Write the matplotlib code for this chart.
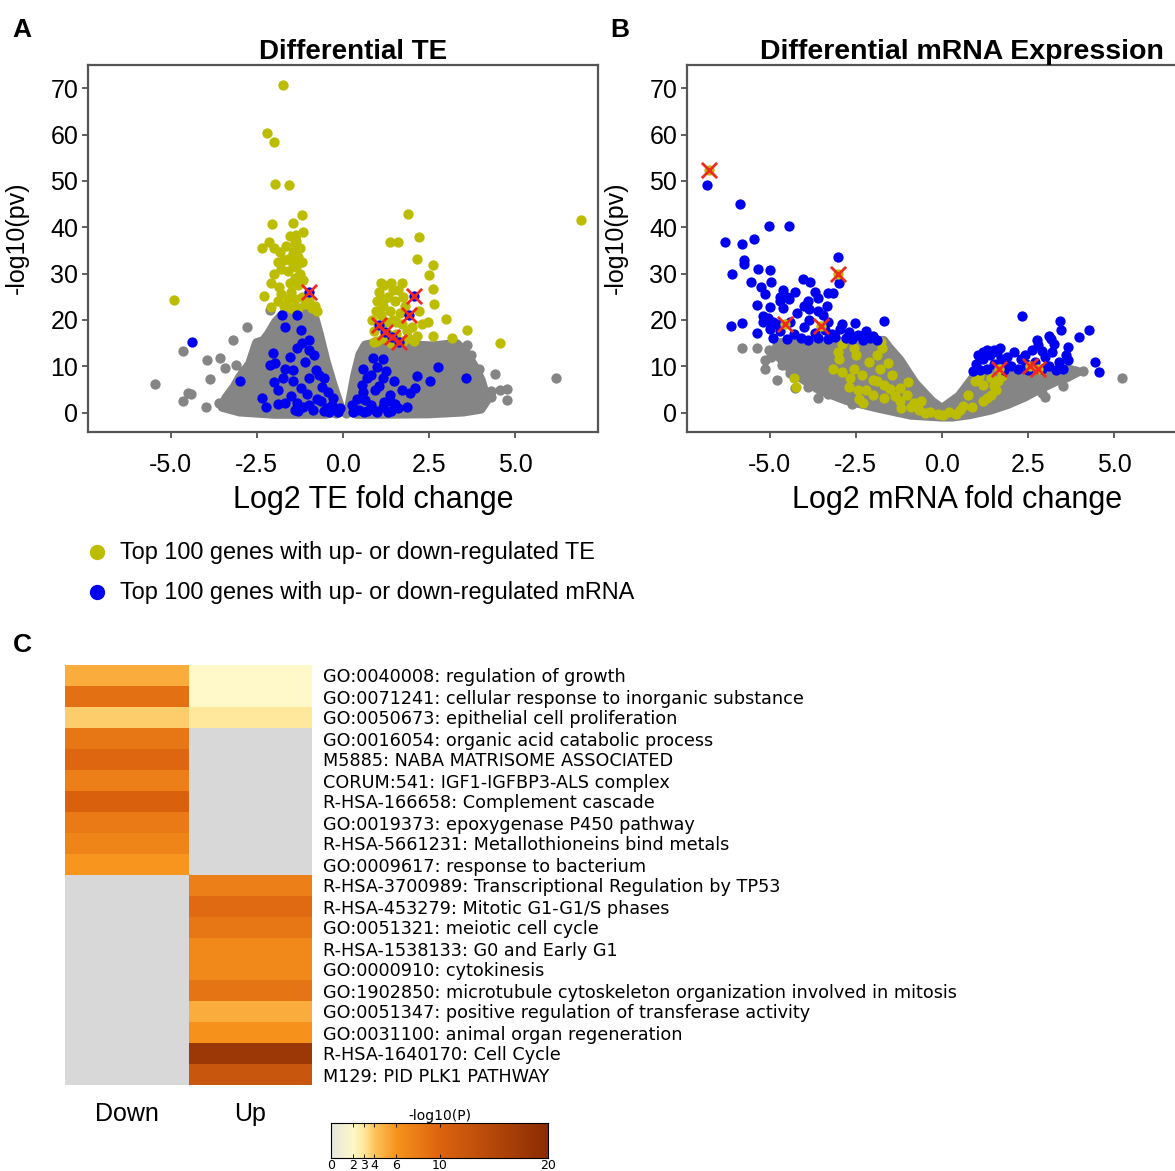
import numpy as np
import matplotlib
matplotlib.use("Agg")
import matplotlib.pyplot as plt
from matplotlib.colors import LinearSegmentedColormap
from matplotlib.lines import Line2D

# ---------------- Panel A: differential TE ----------------
te_gray_outline_x = [-3.5, -3.4, -3.15, -3.0, -2.7, -2.5, -2.3, -2.15, -1.95, -1.7, -1.3, -1.0, -0.85,
                     -0.7, -0.5, -0.3, -0.12, -0.05, -0.5, -2.0, -3.0]
te_gray_outline_y = [1.2, 3.0, 5.5, 7.5, 10.5, 15.0, 15.5, 17.0, 19.5, 21.5, 22.5, 22.0, 21.0,
                     17.0, 11.0, 6.0, 2.0, 0.3, -0.3, -0.3, 0.2]
te_gray_outline2_x = [0.15, 0.2, 0.35, 0.5, 0.65, 1.0, 1.5, 2.0, 2.6, 3.0, 3.3, 3.55, 3.8, 4.0, 4.1,
                      4.15, 4.0, 3.5, 2.5, 1.0, 0.4]
te_gray_outline2_y = [0.3, 2.0, 8.0, 12.5, 14.5, 15.0, 14.8, 14.5, 14.3, 14.6, 14.8, 13.0, 10.0, 7.0,
                      4.5, 2.5, 0.8, 0.2, -0.2, -0.3, -0.3]
te_gray_x = [-5.46, -4.65, -4.65, -4.5, -4.4, -3.95, -3.86, -3.98, -3.56, -3.41, -3.19, -2.79, -2.12,
             3.94, 3.96, 4.41, 4.3, 4.55, 4.75, 4.75, 6.18, 3.7, 4.0,
             -3.3, -2.9, -2.6, -3.6, -2.8, 3.5, 3.3, 3.9, 4.3, -0.2, 0.1, -3.1, 3.6]
te_gray_y = [6.1, 13.3, 2.4, 4.2, 4.0, 11.3, 7.2, 1.3, 11.7, 9.7, 15.6, 18.5, 22.1,
             9.5, 6.3, 8.3, 4.6, 4.8, 5.0, 2.7, 7.5, 12.5, 3.0,
             3.5, 9.0, 12.5, 2.0, 5.0, 12.0, 10.5, 2.0, 3.3, 0.0, 0.0, 10.2, 14.5]
te_yellow_x = [-1.75, -2.2, -2.0, -1.97, -1.58, -1.2, -2.06, -1.46, -1.17, -1.35, -2.15, -2.34, -1.38,
               -1.38, -1.84, -1.61, -1.38, -4.9, 6.9,
               -2.3, -2.1, -2.0, -1.85, -1.8, -1.7, -1.6, -1.55, -1.5, -1.45, -1.4, -1.35, -1.3, -1.25,
               -1.2, -1.15, -1.1, -1.0, -0.9, -0.8, -0.75, -1.3, -1.5, -1.7, -1.9, -2.1, -1.6, -1.4,
               -1.8, -1.25, -1.3, -1.45, -1.2, -1.65, -1.9, -2.0, -1.55, -1.35,
               1.88, 2.2, 1.37, 1.6, 2.16, 2.6, 2.5, 2.6, 2.65, 2.47, 3.0, 2.6, 3.15, 3.6, 4.56,
               0.85, 0.9, 0.95, 1.0, 1.05, 1.1, 1.15, 1.2, 1.25, 1.3, 1.35, 1.4, 1.45, 1.5, 1.55, 1.6,
               1.65, 1.7, 1.75, 1.8, 1.85, 1.9, 2.0, 2.05, 1.15, 1.3, 1.0, 0.9, 1.4, 1.2, 1.45, 1.7,
               1.1, 1.55, 1.75, 2.2, 2.3, 2.15]
te_yellow_y = [70.6, 60.3, 58.4, 49.4, 49.0, 42.6, 40.7, 40.8, 38.9, 38.3, 36.8, 35.4, 36.5,
               35.0, 34.7, 33.2, 34.0, 24.3, 41.5,
               25.2, 28.0, 29.8, 27.0, 31.0, 33.0, 30.5, 28.0, 26.0, 32.0, 29.0, 31.5, 27.5, 30.0,
               25.0, 28.5, 23.5, 24.0, 22.5, 23.0, 22.0, 22.5, 22.5, 23.0, 24.0, 22.8, 24.5, 24.5,
               25.5, 35.5, 33.5, 34.5, 32.5, 36.0, 32.5, 35.5, 38.0, 37.0,
               42.8, 37.8, 36.8, 36.7, 33.2, 31.8, 29.6, 26.6, 23.5, 19.5, 20.1, 16.5, 16.0, 17.8, 14.9,
               20.0, 17.5, 22.0, 24.0, 26.0, 21.0, 23.0, 27.5, 19.5, 25.0, 22.0, 28.0, 20.0, 24.0, 17.0,
               26.5, 21.5, 19.0, 15.5, 23.0, 17.5, 16.0, 18.5, 15.5, 16.0, 17.0, 15.5, 15.2, 15.0,
               24.5, 26.5, 28.0, 28.0, 19.5, 25.0, 22.0, 19.0, 16.5]
te_blue_x = [-1.78, -1.33, -1.67, -1.22, -0.99, -2.03, -1.33, -0.99, -2.12, -1.97, -1.67, -1.44, -1.10,
             -0.77, -0.71, -1.44, -0.99, -0.54, -1.89, -1.22, -0.43, -2.34, -1.67, -1.33, -0.99, -0.65,
             -0.32, -2.23, -0.88, -0.54, -0.20, -0.09, -1.55, -1.2, -0.85, -1.75, -1.05, -0.6, -0.3,
             -1.5, -1.9, -2.0, -0.75, -1.15, -1.4, -0.45, -1.3, -0.4, -0.15,
             0.59, 0.87, 1.15, 0.98, 0.70, 1.15, 1.49, 0.59, 0.92, 1.37, 1.71, 1.94, 0.25, 0.47, 0.81,
             1.15, 1.37, 1.60, 1.32, 0.4, 0.65, 0.55, 0.8, 1.05, 1.25, 1.2, 0.95, 0.7, 1.5, 1.85, 0.35,
             0.3, 0.6, 1.0, 1.4,
             -4.37, -2.98, 2.76, 3.57, 2.53, 2.16, 2.1]
te_blue_y = [21.0, 21.0, 18.5, 17.8, 15.6, 12.8, 13.9, 13.5, 10.3, 10.6, 9.5, 9.2, 11.0,
             9.2, 8.1, 6.7, 7.4, 7.4, 4.9, 5.2, 4.5, 3.1, 2.0, 2.0, 1.7, 2.4,
             1.7, 1.3, 0.6, 0.4, 0.6, 0.9, 12.0, 15.0, 12.5, 7.5, 4.0, 5.5, 3.2,
             3.5, 1.8, 6.5, 3.0, 1.2, 0.5, 1.0, 0.3, 0.2, 0.1,
             9.5, 11.7, 11.6, 9.9, 7.4, 7.4, 6.7, 4.5, 4.9, 3.8, 4.9, 4.2, 1.7, 0.6, 1.7,
             1.3, 2.4, 0.9, 0.2, 3.0, 2.8, 6.0, 8.0, 5.8, 9.0, 2.2, 0.4, 0.3, 1.8, 1.2, 0.5,
             0.1, 0.1, 0.2, 0.3,
             15.3, 6.7, 9.9, 7.4, 6.7, 7.8, 5.2]
te_marked_x = [-0.99, 2.07, 1.91, 1.04, 1.22, 1.43, 1.63]
te_marked_y = [26.0, 25.2, 21.0, 18.9, 17.4, 16.4, 15.3]

# ---------------- Panel B: differential mRNA expression ----------------
mrna_gray_outline_x = [-4.75, -3.0, -1.7, -1.55, -1.23, -0.79, -0.3, 0.0, 0.5, 0.97, 1.5, 2.5, 3.72,
                       3.94, 3.6, 3.28, 2.8, 2.4, 1.9, 1.41, 0.8, 0.3, 0.0, -0.9, -1.9, -2.78, -3.55,
                       -4.15, -4.55, -4.76, -4.8]
mrna_gray_outline_y = [15.0, 15.2, 15.5, 14.0, 11.3, 6.3, 2.4, 0.8, 3.5, 8.1, 8.4, 8.6, 9.2,
                       8.8, 7.5, 6.7, 5.0, 3.4, 1.8, 0.6, -0.4, -0.9, -0.9, -0.5, 1.1, 2.7, 4.9,
                       7.8, 10.5, 12.4, 14.0]
mrna_gray_x = [-5.8, -5.36, -5.03, -5.14, -5.14, -4.79, -4.65, -4.26, -4.4, 5.21, 3.0, 3.8, 4.1,
               -4.95, -3.9, -3.3, -2.6, -3.6, 3.5, 2.9]
mrna_gray_y = [13.9, 13.9, 13.5, 11.3, 9.5, 7.0, 10.3, 5.4, 8.5, 7.4, 3.4, 8.8, 8.9,
               12.0, 5.5, 4.0, 1.8, 3.2, 5.8, 4.2]
mrna_yellow_x = [-4.29, -4.23, -2.91, -2.56, -2.50, -3.02, -3.16, -2.91, -2.56, -2.67, -2.33, -2.11,
                 -1.89, -1.73, -1.78, -1.56, -1.45, -2.44, -2.22, -2.0, -1.67, -1.23, -0.90, -0.68,
                 -0.35, -1.89, -1.67, -1.23, -1.01, 0.2, 0.53, 0.86, 1.19, 1.41, 1.57, 1.63, 1.41,
                 1.19, 1.08, 0.97, 0.75, 1.30, -0.13, 0.03, -0.5, -1.2, 0.4, -2.3, -2.7, -3.0, -1.0,
                 -1.5, -2.0, -0.8, 0.6, 1.5, 1.75, -1.35, -0.6, -2.4, -1.8]
mrna_yellow_y = [7.5, 5.6, 14.7, 13.9, 12.4, 13.1, 9.5, 8.8, 9.5, 7.4, 8.1, 11.0,
                 12.4, 13.9, 15.3, 10.6, 8.1, 4.9, 4.9, 3.8, 3.1, 2.4, 1.3, 0.6,
                 0.2, 6.7, 6.0, 5.2, 3.8, 0.2, 0.6, 1.3, 2.4, 3.8, 4.9, 6.7, 7.4,
                 6.0, 7.8, 6.7, 3.8, 3.1, -0.4, -0.5, 0.0, 1.0, -0.3, 2.0, 5.5, 11.5, 6.5,
                 5.0, 7.0, 2.0, 1.5, 5.8, 7.8, 3.5, 2.5, 3.0, 9.5]
mrna_blue_x = [-6.82, -5.86, -5.03, -4.43, -6.3, -5.8, -5.46, -5.75, -5.75, -6.1, -5.34, -4.98,
               -4.95, -5.53, -5.25, -5.14, -4.6, -4.5, -4.7, -4.26, -3.82, -4.02, -3.02, -3.0, -3.3,
               -3.15, -3.7, -3.6, -4.0, -3.85, -4.98, -5.36, -5.2, -5.05, -4.9, -6.11, -5.8, -5.36,
               -3.44, -2.52, -1.67, -5.2, -4.95,
               -4.9, -4.7, -4.5, -4.3, -4.1, -4.0, -3.9, -3.7, -3.6, -3.4, -3.3, -3.2, -3.1, -2.95,
               -2.8, -2.7, -2.6, -2.45, -2.3, -2.2, -2.1, -2.0, -1.9, -4.8, -4.4, -3.85, -3.3, -2.9,
               -4.2, -3.6, -4.6, -3.9, -4.45, -4.7, -3.35, -5.0,
               0.9, 1.0, 1.1, 1.2, 1.3, 1.4, 1.5, 1.6, 1.7, 1.8, 1.9, 2.0, 2.1, 2.2, 2.3, 2.4, 2.5,
               2.6, 2.7, 2.8, 2.9, 3.0, 3.1, 3.2, 3.3, 3.4, 3.5, 1.05, 1.3, 1.9, 2.45, 2.9, 3.25,
               2.32, 3.42, 3.44, 3.1, 3.17, 2.76, 4.27, 3.98, 3.67, 3.6, 3.65, 4.44, 4.55, 1.68, 1.5,
               1.2, 1.1]
mrna_blue_y = [49.0, 45.1, 40.3, 40.3, 36.8, 36.3, 37.4, 32.9, 32.0, 29.9, 30.9, 30.7,
               28.2, 28.2, 27.1, 25.5, 26.5, 25.0, 24.0, 26.0, 28.2, 28.9, 33.6, 27.9, 25.7,
               25.7, 26.0, 24.8, 23.0, 22.3, 22.8, 23.3, 20.8, 20.3, 19.6, 18.7, 19.4, 17.1,
               21.0, 19.4, 19.8, 19.5, 19.0,
               16.0, 17.5, 15.8, 17.0, 16.0, 18.5, 15.7, 17.2, 16.0, 17.8, 15.8, 17.0, 16.2, 18.0,
               16.0, 17.3, 15.8, 16.8, 15.7, 17.5, 16.0, 16.5, 15.7, 19.0, 19.5, 20.0, 19.5, 19.0,
               21.5, 22.0, 22.5, 24.0, 24.5, 25.0, 23.0, 18.0,
               9.0, 10.5, 9.2, 11.5, 9.5, 12.5, 10.5, 13.0, 11.5, 9.2, 12.0, 10.0, 13.0, 9.5, 11.5,
               12.5, 9.2, 13.5, 11.0, 14.5, 9.5, 12.0, 10.0, 13.0, 9.2, 11.0, 9.4, 12.5, 13.5, 10.2,
               10.5, 13.2, 14.8,
               20.8, 19.7, 17.8, 16.5, 15.8, 15.6, 17.8, 16.4, 14.2, 12.5, 11.3, 11.0, 8.8, 13.9, 13.5,
               13.1, 12.0]
mrna_marked_x = [-6.77, -4.57, -3.52, -3.03, 1.66, 2.54, 2.79]
mrna_marked_y = [52.3, 19.1, 18.7, 30.0, 9.5, 10.1, 9.3]

# ---------------- Panel C: enrichment heatmap ----------------
terms = [
    "GO:0040008: regulation of growth",
    "GO:0071241: cellular response to inorganic substance",
    "GO:0050673: epithelial cell proliferation",
    "GO:0016054: organic acid catabolic process",
    "M5885: NABA MATRISOME ASSOCIATED",
    "CORUM:541: IGF1-IGFBP3-ALS complex",
    "R-HSA-166658: Complement cascade",
    "GO:0019373: epoxygenase P450 pathway",
    "R-HSA-5661231: Metallothioneins bind metals",
    "GO:0009617: response to bacterium",
    "R-HSA-3700989: Transcriptional Regulation by TP53",
    "R-HSA-453279: Mitotic G1-G1/S phases",
    "GO:0051321: meiotic cell cycle",
    "R-HSA-1538133: G0 and Early G1",
    "GO:0000910: cytokinesis",
    "GO:1902850: microtubule cytoskeleton organization involved in mitosis",
    "GO:0051347: positive regulation of transferase activity",
    "GO:0031100: animal organ regeneration",
    "R-HSA-1640170: Cell Cycle",
    "M129: PID PLK1 PATHWAY",
]
nan = np.nan
down_vals = [5.0, 9.0, 3.8, 8.5, 9.8, 7.8, 10.5, 8.2, 7.3, 6.0,
             nan, nan, nan, nan, nan, nan, nan, nan, nan, nan]
up_vals = [2.0, 2.0, 3.0, nan, nan, nan, nan, nan, nan, nan,
           7.8, 9.5, 8.5, 7.0, 7.0, 8.7, 5.0, 6.2, 18.0, 12.5]
columns = ["Down", "Up"]
cbar_ticks = [0, 2, 3, 4, 6, 10, 20]

GRAY = "#858585"
YELLOW = "#bcbc00"
BLUE = "#0000f0"
DOT = 55
SANS = "Liberation Sans"

fig = plt.figure(figsize=(11.75, 11.71), dpi=100)
W, H = 1175.0, 1171.0


def px_axes(left, top, right, bottom):
    return fig.add_axes([left / W, 1 - bottom / H, (right - left) / W, (bottom - top) / H])


# -------- panel A --------
axA = px_axes(88, 65, 598, 432)
for ox, oy in [(te_gray_outline_x, te_gray_outline_y), (te_gray_outline2_x, te_gray_outline2_y)]:
    axA.fill(ox, oy, facecolor=GRAY, edgecolor=GRAY, linewidth=7, joinstyle="round", zorder=1)
axA.scatter(te_gray_x, te_gray_y, s=DOT, color=GRAY, lw=0, zorder=2)
axA.scatter(te_yellow_x, te_yellow_y, s=DOT, color=YELLOW, lw=0, zorder=3)
axA.scatter(te_blue_x, te_blue_y, s=DOT, color=BLUE, lw=0, zorder=4)
axA.scatter(te_marked_x, te_marked_y, s=DOT, color=BLUE, lw=0, zorder=5)
axA.scatter(te_marked_x, te_marked_y, s=120, marker="x", color="#f0281e", lw=2, zorder=6)
axA.set_title("Differential TE", fontsize=20, fontweight="bold", family=SANS, x=0.52, pad=4)
axA.set_xlabel("Log2 TE fold change", fontsize=22, family=SANS)

# -------- panel B --------
axB = px_axes(687, 65, 1197, 432)
axB.fill(mrna_gray_outline_x, mrna_gray_outline_y, facecolor=GRAY, edgecolor=GRAY,
         linewidth=7, joinstyle="round", zorder=1)
axB.scatter(mrna_gray_x, mrna_gray_y, s=DOT, color=GRAY, lw=0, zorder=2)
axB.scatter(mrna_yellow_x, mrna_yellow_y, s=DOT, color=YELLOW, lw=0, zorder=3)
axB.scatter(mrna_blue_x, mrna_blue_y, s=DOT, color=BLUE, lw=0, zorder=4)
axB.scatter(mrna_marked_x, mrna_marked_y, s=DOT, color=YELLOW, lw=0, zorder=5)
axB.scatter(mrna_marked_x, mrna_marked_y, s=120, marker="x", color="#f0281e", lw=2, zorder=6)
axB.set_title("Differential mRNA Expression", fontsize=20.5, fontweight="bold", family=SANS,
              x=0.54, pad=4)
axB.set_xlabel("Log2 mRNA fold change", fontsize=22, family=SANS)

for ax, xl in [(axA, 0.56), (axB, 0.53)]:
    ax.set_xlim(-7.4, 7.4)
    ax.set_ylim(-4.2, 75)
    ax.set_xticks([-5.0, -2.5, 0.0, 2.5, 5.0])
    ax.set_xticklabels(["-5.0", "-2.5", "0.0", "2.5", "5.0"])
    ax.set_yticks([0, 10, 20, 30, 40, 50, 60, 70])
    ax.tick_params(axis="both", labelsize=18, length=4, width=1.2, color="#444444")
    ax.tick_params(axis="x", pad=11)
    ax.tick_params(axis="y", pad=3)
    for lab in ax.get_xticklabels() + ax.get_yticklabels():
        lab.set_family(SANS)
    for sp in ax.spines.values():
        sp.set_color("#555555")
        sp.set_linewidth(1.6)
    ax.set_ylabel("-log10(pv)", fontsize=18, family=SANS)
    ax.yaxis.set_label_coords(-0.115, 0.53)
    ax.xaxis.set_label_coords(xl, -0.145)

# -------- legend --------
for yy, col, txt in [(552, YELLOW, "Top 100 genes with up- or down-regulated TE"),
                     (592, BLUE, "Top 100 genes with up- or down-regulated mRNA")]:
    fig.add_artist(Line2D([97 / W], [1 - yy / H], transform=fig.transFigure, marker="o",
                          markersize=10, color=col, lw=0))
    fig.text(120 / W, 1 - yy / H, txt, fontsize=16.9, family=SANS, va="center", ha="left")

# -------- panel letters --------
for x0, y0, s in [(22, 30, "A"), (620, 30, "B"), (22, 645, "C")]:
    fig.text(x0 / W, 1 - y0 / H, s, fontsize=19, fontweight="bold", family=SANS, ha="center", va="center")

# -------- panel C heatmap --------
cmap = LinearSegmentedColormap.from_list(
    "metascape",
    [(0.0, "#e6e6df"), (0.1, "#fff8c8"), (0.15, "#ffe89a"), (0.2, "#fdc45c"),
     (0.3, "#f7941d"), (0.5, "#dd640f"), (1.0, "#8c2c04")])
cmap.set_bad("#d8d8d8")
grid = np.ma.masked_invalid(np.column_stack([down_vals, up_vals]))

axC = px_axes(65, 665, 312, 1085)
axC.pcolormesh(np.arange(len(columns) + 1), np.arange(len(terms) + 1), grid, cmap=cmap, vmin=0, vmax=20)
axC.set_ylim(len(terms), 0)
axC.set_xlim(0, len(columns))
axC.set_yticks(np.arange(len(terms)) + 0.5)
axC.set_yticklabels(terms, fontsize=12.7, family="DejaVu Sans")
axC.yaxis.tick_right()
axC.tick_params(axis="y", length=0, pad=8)
axC.set_xticks(np.arange(len(columns)) + 0.5)
axC.set_xticklabels(columns, fontsize=18, family=SANS)
axC.tick_params(axis="x", length=0, pad=12)
for sp in axC.spines.values():
    sp.set_visible(False)

# colour bar
axCb = px_axes(331, 1123, 548, 1158)
ramp = np.linspace(0, 20, 400).reshape(1, -1)
axCb.imshow(ramp, aspect="auto", cmap=cmap, vmin=0, vmax=20, extent=[0, 20, 0, 1])
axCb.set_xticks(cbar_ticks)
axCb.set_xticklabels([str(t) for t in cbar_ticks], fontsize=9, family="DejaVu Sans")
axCb.set_yticks([])
axCb.tick_params(axis="x", length=3, width=0.6, direction="in", pad=1, top=True)
for sp in axCb.spines.values():
    sp.set_linewidth(0.8)
axCb.set_title("-log10(P)", fontsize=10, family="DejaVu Sans", pad=2)

fig.savefig("out.png", dpi=100)
